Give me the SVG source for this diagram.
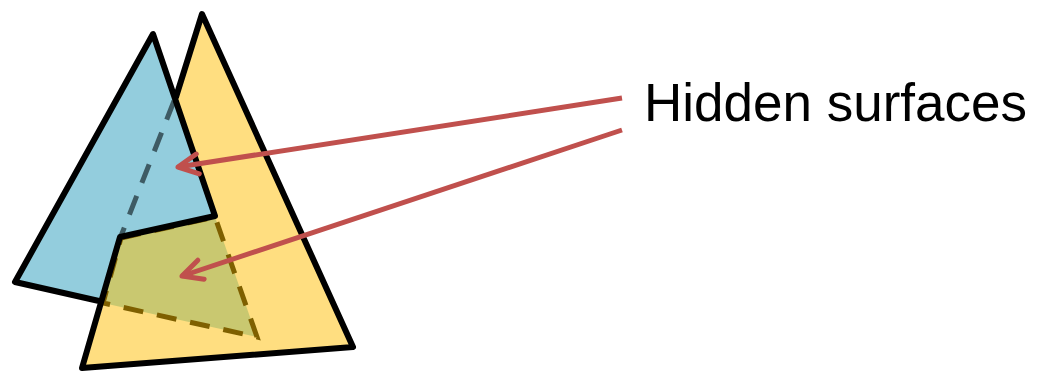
<svg xmlns="http://www.w3.org/2000/svg" width="1039" height="374" viewBox="0 0 1039 374">
  <style>
    .edge { fill: none; stroke: #000; stroke-width: 6; stroke-linejoin: round; stroke-linecap: round; }
    .hidden-dash { stroke-width: 5; stroke-dasharray: 20 14; }
    .arrow { fill: none; stroke: #C0504D; stroke-width: 5; marker-end: url(#openArrow); }
    .label { font-family: "Liberation Sans", Arial, sans-serif; font-size: 53px; fill: #000; }
  </style>
  <defs>
    <marker id="openArrow" markerUnits="userSpaceOnUse" markerWidth="40" markerHeight="40" viewBox="-30 -20 40 40" refX="0" refY="0" orient="auto" overflow="visible">
      <path d="M-20,-10 L0,0 L-20,10" fill="none" stroke="#C0504D" stroke-width="5" stroke-linecap="round" stroke-linejoin="round"/>
    </marker>
  </defs>
  <rect width="1039" height="374" fill="#fff"/>
  <g id="yellow-triangle">
    <polygon points="202,14 353,347 82,368" fill="#FFDE80"/>
  </g>
  <g id="blue-triangle">
    <polygon points="153,34 15,282 99,301 120,237 215,216" fill="#93CDDD"/>
    <line x1="174" y1="101" x2="121" y2="236" class="hidden-dash" fill="none" stroke="#3E5B64"/>
  </g>
  <g id="hidden-overlap">
    <polygon points="121,238 215,217 257,337 103,303" class="hidden-dash" fill="#C9C870" stroke="#7F6000"/>
  </g>
  <g id="outlines">
    <path class="edge" d="M176,97 L202,14 L353,347 L82,368 L120,237 L215,216 L153,34 L15,282 L99,301"/>
  </g>
  <g id="connectors">
    <line class="arrow" x1="622" y1="98" x2="178" y2="167"/>
    <line class="arrow" x1="622" y1="130" x2="182" y2="276"/>
  </g>
  <g id="label">
    <text class="label" x="644" y="121">Hidden surfaces</text>
  </g>
</svg>
